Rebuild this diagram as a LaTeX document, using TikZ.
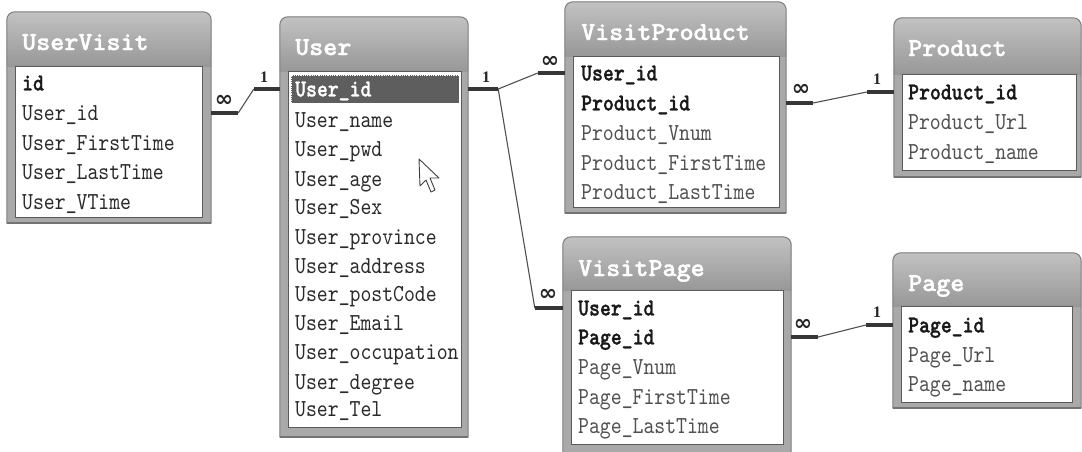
\documentclass[tikz,border=0pt]{standalone}
\usepackage{fontspec}
\usetikzlibrary{fit,calc}
\newfontfamily\rowfont{lmmono10-regular}[Extension=.otf, BoldFont=lmmonolt10-bold, BoldFeatures={FakeBold=1.2}, FakeStretch=0.85]
\newfontfamily\titlefont{lmmonolt10-bold}[Extension=.otf, FakeStretch=1.03, FakeBold=1.4]
\newfontfamily\symfont{DejaVu Sans}
\newfontfamily\onefont{Liberation Serif}
\definecolor{framegray}{HTML}{A9A9A9}
\definecolor{frameline}{HTML}{7E7E7E}
\definecolor{headtop}{HTML}{C2C2C2}
\definecolor{headbot}{HTML}{979797}
\definecolor{innerline}{HTML}{5A5A5A}
\definecolor{rowdark}{HTML}{2A2A2A}
\definecolor{rowlight}{HTML}{505050}
\definecolor{hlfill}{HTML}{5E5E5E}
\definecolor{connthick}{HTML}{363636}
\definecolor{connthin}{HTML}{505050}
\tikzset{
  frame/.style={fill=framegray},
  frameborder/.style={draw=frameline, line width=1pt},
  innerbox/.style={fill=white, draw=innerline, line width=1.1pt},
  shadowline/.style={draw=black!55, line width=2pt},
  row/.style={anchor=west, inner sep=0pt, text height=17.5pt, text depth=2.6pt,
    font=\rowfont\fontsize{24.4}{24.4}\selectfont, text=rowdark},
  lightrow/.style={row, text=rowlight},
  keyrow/.style={row, font=\rowfont\bfseries\fontsize{24.4}{24.4}\selectfont, text=black!90},
  titletext/.style={anchor=west, inner sep=0pt, text height=18pt, text depth=2pt,
    font=\titlefont\fontsize{26}{26}\selectfont, text=white},
  thickconn/.style={draw=connthick, line width=3.6pt},
  thinconn/.style={draw=connthin, line width=1.1pt},
  inflab/.style={inner sep=0pt, font=\symfont\bfseries\fontsize{22}{22}\selectfont, text=black!85},
  onelab/.style={inner sep=0pt, font=\onefont\bfseries\fontsize{16}{16}\selectfont, text=black!85},
}
% name, outer x1,y1,x2,y2, inner x1,y1,x2,y2
\newcommand\dbtable[9]{%
  \node[fit={(#2,#3)(#4,#5)}, inner sep=0pt] (#1) {};
  \node[fit={(#6,#7)(#8,#9)}, inner sep=0pt] (#1-in) {};
  \fill[frame] (#1.south west) [rounded corners=8pt] -- (#1.north west) -- (#1.north east) [sharp corners] -- (#1.south east) -- cycle;
  \shade[top color=headtop, bottom color=headbot] (#1.west |- #1-in.north) [rounded corners=8pt] -- (#1.north west) -- (#1.north east) [sharp corners] -- (#1.east |- #1-in.north) -- cycle;
  \draw[frameborder] (#1.south west) [rounded corners=8pt] -- (#1.north west) -- (#1.north east) [sharp corners] -- (#1.south east) -- cycle;
  \draw[shadowline] (#1.south west) -- (#1.south east);
  \filldraw[innerbox] (#1-in.north west) rectangle (#1-in.south east);
}
\begin{document}
\begin{tikzpicture}[x=1pt,y=-1pt]
\useasboundingbox (0,0) rectangle (1082,451);
\fill[white] (0,0) rectangle (1082,451);

% ---------------- UserVisit
\dbtable{uv}{7}{12}{211}{223}{16}{67}{202}{217}
\node[titletext] (uv-t) at (22,42) {UserVisit};
\node[keyrow] (uv1) at (22,83) {id};
\node[row] (uv2) at (22,113) {User\_id};
\node[row] (uv3) at (22,143) {User\_FirstTime};
\node[row] (uv4) at (22,172) {User\_LastTime};
\node[row] (uv5) at (22,202) {User\_VTime};

% ---------------- User
\dbtable{u}{280}{17}{468}{437}{289}{72}{461}{427}
\node[titletext] (u-t) at (295,47) {User};
\node[fill=hlfill, draw=white, densely dotted, line width=0.8pt, inner sep=0pt, fit={(291,75)(459,103)}] (u-hl) {};
\node[keyrow, text=white] (u1) at (295,89) {User\_id};
\node[row] (u2) at (295,120) {User\_name};
\node[row] (u3) at (295,149) {User\_pwd};
\node[row] (u4) at (295,179) {User\_age};
\node[row] (u5) at (295,207) {User\_Sex};
\node[row] (u6) at (295,237) {User\_province};
\node[row] (u7) at (295,266) {User\_address};
\node[row] (u8) at (295,294) {User\_postCode};
\node[row] (u9) at (295,323) {User\_Email};
\node[row] (u10) at (295,352) {User\_occupation};
\node[row] (u11) at (295,382) {User\_degree};
\node[row] (u12) at (295,409) {User\_Tel};
% mouse cursor
\filldraw[fill=white, draw=black!75, line width=0.9pt, line join=round]
  (419,159) -- (420,186) -- (426,180) -- (431,192) -- (435,190) -- (430,178) -- (439,178) -- cycle;

% ---------------- VisitProduct
\dbtable{vp}{565}{2}{786}{213}{574}{57}{779}{207}
\node[titletext] (vp-t) at (581,32) {VisitProduct};
\node[keyrow] (vp1) at (581,73) {User\_id};
\node[keyrow] (vp2) at (581,103) {Product\_id};
\node[lightrow] (vp3) at (581,133) {Product\_Vnum};
\node[lightrow] (vp4) at (581,163) {Product\_FirstTime};
\node[lightrow] (vp5) at (581,192) {Product\_LastTime};

% ---------------- VisitPage
\dbtable{vg}{563}{237}{791}{453}{572}{291}{783}{444}
\node[titletext] (vg-t) at (578,268) {VisitPage};
\node[keyrow] (vg1) at (578,308) {User\_id};
\node[keyrow] (vg2) at (578,337) {Page\_id};
\node[lightrow] (vg3) at (578,367) {Page\_Vnum};
\node[lightrow] (vg4) at (578,397) {Page\_FirstTime};
\node[lightrow] (vg5) at (578,426) {Page\_LastTime};

% ---------------- Product
\dbtable{p}{894}{18}{1081}{177}{903}{75}{1076}{170}
\node[titletext] (p-t) at (908,48) {Product};
\node[keyrow] (p1) at (908,92) {Product\_id};
\node[lightrow] (p2) at (908,122) {Product\_Url};
\node[lightrow] (p3) at (908,152) {Product\_name};

% ---------------- Page
\dbtable{pg}{893}{253}{1081}{408}{902}{307}{1072}{402}
\node[titletext] (pg-t) at (908,283) {Page};
\node[keyrow] (pg1) at (908,325) {Page\_id};
\node[lightrow] (pg2) at (908,355) {Page\_Url};
\node[lightrow] (pg3) at (908,384) {Page\_name};

% ---------------- connectors
% UserVisit -- User
\draw[thinconn] ($(uv.east|-uv2)+(27,0)$) -- ($(u.west|-u1)+(-26,0)$);
\draw[thickconn] (uv.east|-uv2) -- ++(27,0);
\draw[thickconn] (u.west|-u1) -- ++(-26,0);
\node[inflab] (l1a) at (224,101) {∞};
\node[onelab] (l1b) at (264,77) {1};

% User -- VisitProduct / VisitPage
\coordinate (j) at ($(u.east|-u1)+(30,0)$);
\draw[thinconn] (j) -- ($(vp.west|-vp1)+(-27,0)$);
\draw[thinconn] (j) -- ($(vg.west|-vg1)+(-28,0)$);
\draw[thickconn] (u.east|-u1) -- (j);
\draw[thickconn] (vp.west|-vp1) -- ++(-27,0);
\draw[thickconn] (vg.west|-vg1) -- ++(-28,0);
\node[onelab] (l2a) at (486,77) {1};
\node[inflab] (l2b) at (550,62) {∞};
\node[inflab] (l3b) at (548,295) {∞};

% VisitProduct -- Product
\draw[thinconn] ($(vp.east|-vp2)+(27,0)$) -- ($(p.west|-p1)+(-27,0)$);
\draw[thickconn] (vp.east|-vp2) -- ++(27,0);
\draw[thickconn] (p.west|-p1) -- ++(-27,0);
\node[inflab] (l4a) at (801,90) {∞};
\node[onelab] (l4b) at (877,79) {1};

% VisitPage -- Page
\draw[thinconn] ($(vg.east|-vg2)+(27,0)$) -- ($(pg.west|-pg1)+(-27,0)$);
\draw[thickconn] (vg.east|-vg2) -- ++(27,0);
\draw[thickconn] (pg.west|-pg1) -- ++(-27,0);
\node[inflab] (l5a) at (803,325) {∞};
\node[onelab] (l5b) at (877,312) {1};
\end{tikzpicture}
\end{document}
